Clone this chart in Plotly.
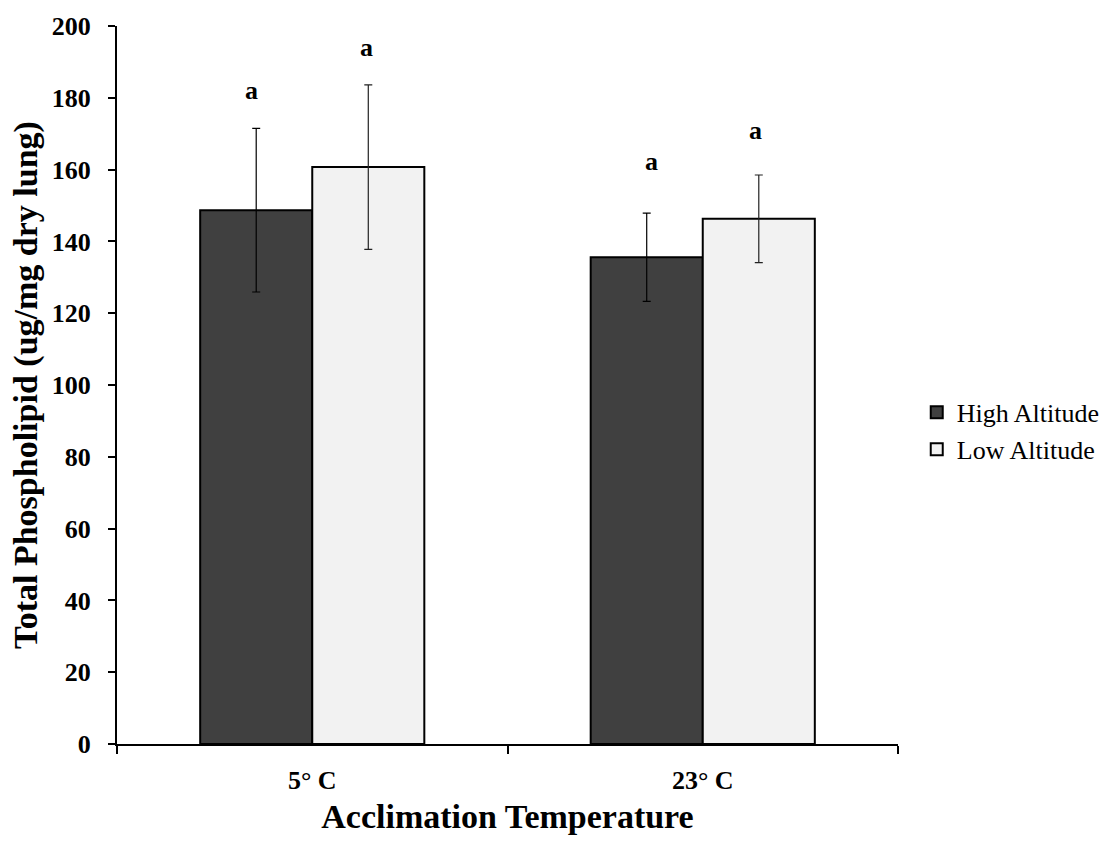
import plotly.graph_objects as go

categories = ["5° C", "23° C"]
high_alt = [148.7, 135.6]
high_err = [22.8, 12.3]
low_alt = [160.7, 146.3]
low_err = [22.9, 12.2]
high_letters = ["a", "a"]
low_letters = ["a", "a"]

FONT = "Liberation Serif, Times New Roman, serif"

# pixel offsets of the significance letters (layout only)
high_letter_gap = [38, 52]
low_letter_gap = [37, 44]
high_letter_dx = [-61, -51]
low_letter_dx = [54, 53]

fig = go.Figure()
fig.add_trace(go.Bar(
    name="High Altitude", x=categories, y=high_alt,
    marker=dict(color="#404040", line=dict(color="black", width=2)),
    error_y=dict(type="data", array=high_err, color="black", thickness=1.2, width=4),
))
fig.add_trace(go.Bar(
    name="Low Altitude", x=categories, y=low_alt,
    marker=dict(color="#F2F2F2", line=dict(color="black", width=2)),
    error_y=dict(type="data", array=low_err, color="#222222", thickness=1.2, width=4),
))

for i, c in enumerate(categories):
    fig.add_annotation(x=c, y=high_alt[i] + high_err[i], text=high_letters[i],
                       showarrow=False, xshift=high_letter_dx[i], yshift=high_letter_gap[i],
                       yanchor="middle",
                       font=dict(family=FONT, size=26, color="black", weight="bold"))
    fig.add_annotation(x=c, y=low_alt[i] + low_err[i], text=low_letters[i],
                       showarrow=False, xshift=low_letter_dx[i], yshift=low_letter_gap[i],
                       yanchor="middle",
                       font=dict(family=FONT, size=26, color="black", weight="bold"))

fig.update_layout(
    width=1117, height=844,
    margin=dict(l=117, r=210, t=22, b=100),
    paper_bgcolor="white", plot_bgcolor="white",
    barmode="group", bargap=0.426, bargroupgap=0,
    font=dict(family=FONT, color="black"),
    showlegend=True,
    legend=dict(x=1.024, y=0.436, xanchor="left", yanchor="middle",
                font=dict(family=FONT, size=26, color="black"),
                itemwidth=30),
)
fig.update_xaxes(
    type="category", showline=True, linecolor="black", linewidth=2,
    ticks="outside", tickson="boundaries", ticklen=8, tickwidth=2, tickcolor="black",
    tickfont=dict(family=FONT, size=26, color="black", weight="bold"),
    ticklabelstandoff=12,
    title=dict(text="Acclimation Temperature", standoff=10,
               font=dict(family=FONT, size=34, color="black", weight="bold")),
    showgrid=False, zeroline=False,
)
fig.update_yaxes(
    range=[0, 200], dtick=20, showline=True, linecolor="black", linewidth=2,
    ticks="outside", ticklen=7, tickwidth=2, tickcolor="black",
    tickfont=dict(family=FONT, size=26, color="black", weight="bold"),
    ticklabelstandoff=12,
    title=dict(text="Total Phospholipid (ug/mg dry lung)", standoff=4,
               font=dict(family=FONT, size=34, color="black", weight="bold")),
    showgrid=False, zeroline=False,
)

fig.write_html("out.html")
